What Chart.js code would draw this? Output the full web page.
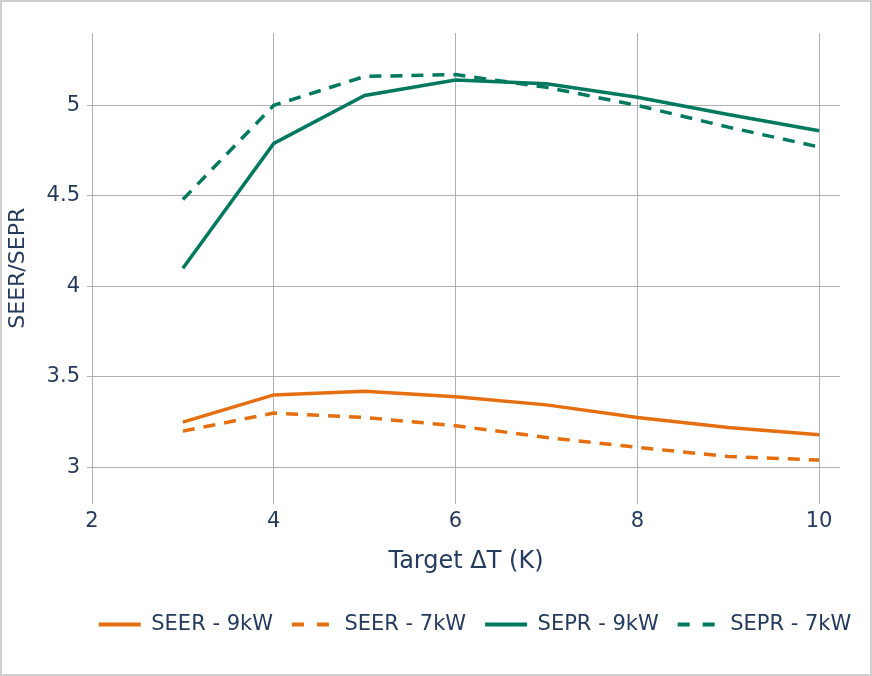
<!DOCTYPE html>
<html>
<head>
<meta charset="utf-8">
<script src="https://cdn.jsdelivr.net/npm/chart.js@4.4.1/dist/chart.umd.min.js"></script>
<style>
  html, body { margin: 0; padding: 0; background: #fff; }
  #wrap { position: relative; width: 872px; height: 676px; }
  #frame { position: absolute; left: 0; top: 0; width: 872px; height: 676px; box-sizing: border-box; border: 2px solid #cfcfcf; pointer-events: none; }
</style>
</head>
<body>
<div id="wrap">
  <canvas id="chart" width="872" height="676"></canvas>
  <div id="frame"></div>
</div>
<script>
// data
const targetDT = [3, 4, 5, 6, 7, 8, 9, 10];
const seer9 = [3.25, 3.40, 3.42, 3.39, 3.345, 3.275, 3.22, 3.18];
const seer7 = [3.20, 3.30, 3.275, 3.23, 3.165, 3.11, 3.06, 3.04];
const sepr9 = [4.10, 4.79, 5.055, 5.14, 5.12, 5.045, 4.95, 4.86];
const sepr7 = [4.48, 5.00, 5.16, 5.17, 5.10, 5.00, 4.88, 4.77];
const xTicks = [2, 4, 6, 8, 10];
const yTicks = [3, 3.5, 4, 4.5, 5];

const ORANGE = '#e56f0e';
const GREEN = '#00795f';
const TEXT = '#243a5e';
const GRID = '#b0b0b0';
const FONT = 'DejaVu Sans';
const DASH = [12, 9];
const LEGEND_DASH = [12, 13];

function pts(ys) {
    return targetDT.map((x, i) => ({x: x, y: ys[i]}));
}

function series(label, ys, color, dash) {
    return {
        label: label,
        data: pts(ys),
        borderColor: color,
        backgroundColor: color,
        borderWidth: 3.5,
        borderDash: dash,
        pointRadius: 0,
        tension: 0,
        fill: false
    };
}

// legend entries drawn as short lines, dashed where the series is dashed
function legendLabels(chart) {
    const items = Chart.defaults.plugins.legend.labels.generateLabels(chart);
    return items.map((it, i) => {
        const ds = chart.data.datasets[i];
        it.lineDash = ds.borderDash.length ? LEGEND_DASH : [];
        it.strokeStyle = ds.borderColor;
        it.lineWidth = 4;
        return it;
    });
}

// nudge the legend so it sits under the plot the way the original does
const legendShift = {
    id: 'legendShift',
    afterLayout(chart) {
        const dx = 55;
        chart.legend.left += dx;
        chart.legend.right += dx;
    }
};

const ctx = document.getElementById('chart').getContext('2d');
new Chart(ctx, {
    type: 'line',
    data: {
        datasets: [
            series('SEER - 9kW', seer9, ORANGE, []),
            series('SEER - 7kW', seer7, ORANGE, DASH),
            series('SEPR - 9kW', sepr9, GREEN, []),
            series('SEPR - 7kW', sepr7, GREEN, DASH)
        ]
    },
    options: {
        responsive: false,
        animation: false,
        layout: { padding: { top: 33, right: 32, bottom: 31, left: 0 } },
        plugins: {
            tooltip: { enabled: false },
            legend: {
                position: 'bottom',
                labels: {
                    color: TEXT,
                    font: { family: FONT, size: 21 },
                    usePointStyle: true,
                    pointStyle: 'line',
                    pointStyleWidth: 42,
                    boxWidth: 42,
                    padding: 19,
                    generateLabels: legendLabels
                }
            }
        },
        scales: {
            x: {
                type: 'linear',
                min: 2,
                max: 10.23,
                afterBuildTicks: s => { s.ticks = xTicks.map(v => ({value: v})); },
                afterFit: s => { s.height = 91.5; },
                grid: { color: GRID, lineWidth: 1, drawTicks: false },
                border: { display: false },
                ticks: { color: TEXT, font: { family: FONT, size: 21 }, padding: 5, maxRotation: 0 },
                title: {
                    display: true,
                    text: 'Target ΔT (K)',
                    color: TEXT,
                    font: { family: FONT, size: 24 },
                    padding: { top: 0, bottom: 19 }
                }
            },
            y: {
                type: 'linear',
                min: 2.8,
                max: 5.4,
                afterBuildTicks: s => { s.ticks = yTicks.map(v => ({value: v})); },
                afterFit: s => { s.width = 92; },
                grid: { color: GRID, lineWidth: 1, drawTicks: true, tickLength: 5, tickColor: GRID },
                border: { display: false },
                ticks: {
                    color: TEXT,
                    font: { family: FONT, size: 21 },
                    padding: 7,
                    callback: v => String(v)
                },
                title: {
                    display: true,
                    text: 'SEER/SEPR',
                    color: TEXT,
                    font: { family: FONT, size: 22 },
                    padding: { top: 5, bottom: 0 }
                }
            }
        }
    },
    plugins: [legendShift]
});
</script>
</body>
</html>
